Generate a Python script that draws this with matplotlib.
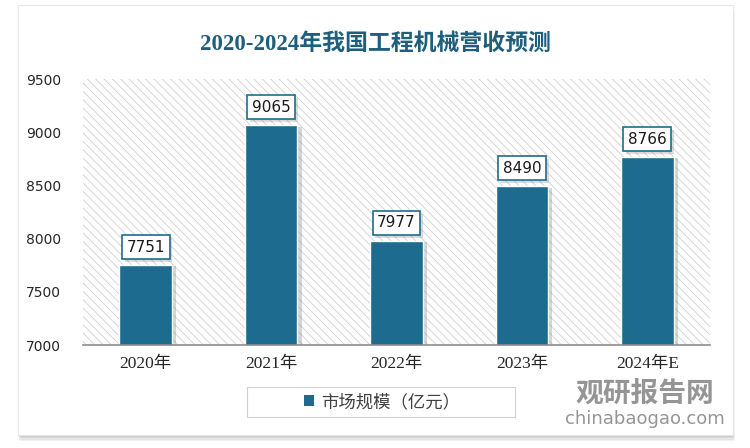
import matplotlib
matplotlib.use("Agg")
import matplotlib.pyplot as plt
from matplotlib.patches import Rectangle
import matplotlib.patheffects as pe

categories = ["2020年", "2021年", "2022年", "2023年", "2024年E"]
values = [7751, 9065, 7977, 8490, 8766]
yticks = [7000, 7500, 8000, 8500, 9000, 9500]
title = "2020-2024年我国工程机械营收预测"
legend_label = "市场规模（亿元）"

bar_color = "#1D6C8F"
title_color = "#1E5F7E"

plt.rcParams['font.family'] = ['DejaVu Sans', 'Noto Sans CJK SC']
plt.rcParams['hatch.linewidth'] = 0.6
plt.rcParams['hatch.color'] = '#d0d0d0'

fig = plt.figure(figsize=(7.5, 4.48), dpi=100)
fig.patch.set_facecolor('white')

# outer panel with soft shadow
for i, a in enumerate([0.05, 0.05, 0.05, 0.05]):
    off = (i + 1) * 1.5
    fig.patches.append(Rectangle(((18 + off * 0.3) / 750, (13 - off) / 448), 715 / 750, 430 / 448,
                                 transform=fig.transFigure, facecolor='black', alpha=a,
                                 edgecolor='none', zorder=0))
fig.patches.append(Rectangle((18 / 750, 13 / 448), 715 / 750, 430 / 448,
                             transform=fig.transFigure, facecolor='white',
                             edgecolor='#e6e6e6', linewidth=0.8, zorder=0.5))

ax = fig.add_axes([83 / 750, (448 - 345) / 448, 627 / 750, 266 / 448])
ax.set_zorder(2)
ax.set_facecolor('white')
ax.add_patch(Rectangle((0, 0), 1, 1, transform=ax.transAxes, facecolor='white',
                       hatch='\\\\\\\\', edgecolor='#d0d0d0', linewidth=0, zorder=0))

x = list(range(len(categories)))
bars = ax.bar(x, values, width=0.42, color=bar_color, edgecolor='white', linewidth=1.0,
              zorder=3)
for b in bars:
    b.set_path_effects([pe.SimplePatchShadow(offset=(3, -1), shadow_rgbFace='#888888', alpha=0.35),
                        pe.Normal()])

for xi, v in zip(x, values):
    t = ax.annotate(f"{v}", (xi, v), xytext=(0, 13), textcoords='offset points',
                    ha='center', va='center', fontsize=11, color='#1a1a1a', zorder=5,
                    bbox=dict(boxstyle='square,pad=0.3', facecolor='white',
                              edgecolor=bar_color, linewidth=1.2))
    t.get_bbox_patch().set_path_effects([
        pe.SimplePatchShadow(offset=(2, -2), shadow_rgbFace='#888888', alpha=0.3), pe.Normal()])

ax.set_xlim(-0.5, len(categories) - 0.5)
ax.set_ylim(7000, 9500)
ax.set_yticks(yticks)
ax.set_yticklabels([str(t) for t in yticks], fontsize=10, color='#262626')
ax.set_xticks(x)
ax.set_xticklabels(categories, fontsize=12.5, color='#262626',
                   family=['Liberation Serif', 'Noto Sans CJK SC'])
ax.tick_params(axis='both', length=0)
ax.tick_params(axis='y', pad=16)
ax.tick_params(axis='x', pad=8)
for s in ['top', 'right', 'left']:
    ax.spines[s].set_visible(False)
ax.spines['bottom'].set_color('#8c8c8c')
ax.spines['bottom'].set_linewidth(1.2)
ax.spines['bottom'].set_zorder(4)

fig.text(375 / 750, (448 - 44) / 448, title, ha='center', va='center', fontsize=16.5,
         color=title_color, fontweight='bold', family=['Liberation Serif', 'Noto Sans CJK SC'])

# legend box
fig.patches.append(Rectangle((247 / 750, (448 - 417) / 448), 268 / 750, 30 / 448,
                             transform=fig.transFigure, facecolor='white',
                             edgecolor='#d0d0d0', linewidth=0.8, zorder=1))
h = Rectangle((0, 0), 1, 1, facecolor=bar_color)
leg = fig.legend([h], [legend_label], loc='center', bbox_to_anchor=(382 / 750, (448 - 402) / 448),
                 frameon=False, handlelength=0.6, handleheight=0.6,
                 handletextpad=0.4, prop={'family': ['Noto Sans CJK SC'], 'size': 12.5})
for txt in leg.get_texts():
    txt.set_color('#404040')

# watermark
fig.text(645 / 750, (448 - 394) / 448, "观研报告网", ha='center', va='center', fontsize=20,
         color='#8a8a8a', fontweight='bold', family=['Noto Sans CJK SC'], alpha=0.9, zorder=10)
fig.text(645 / 750, (448 - 419) / 448, "chinabaogao.com", ha='center', va='center', fontsize=13,
         color='#8a8a8a', family=['DejaVu Sans'], alpha=0.9, zorder=10)

fig.savefig("out.png", dpi=100, facecolor='white')
